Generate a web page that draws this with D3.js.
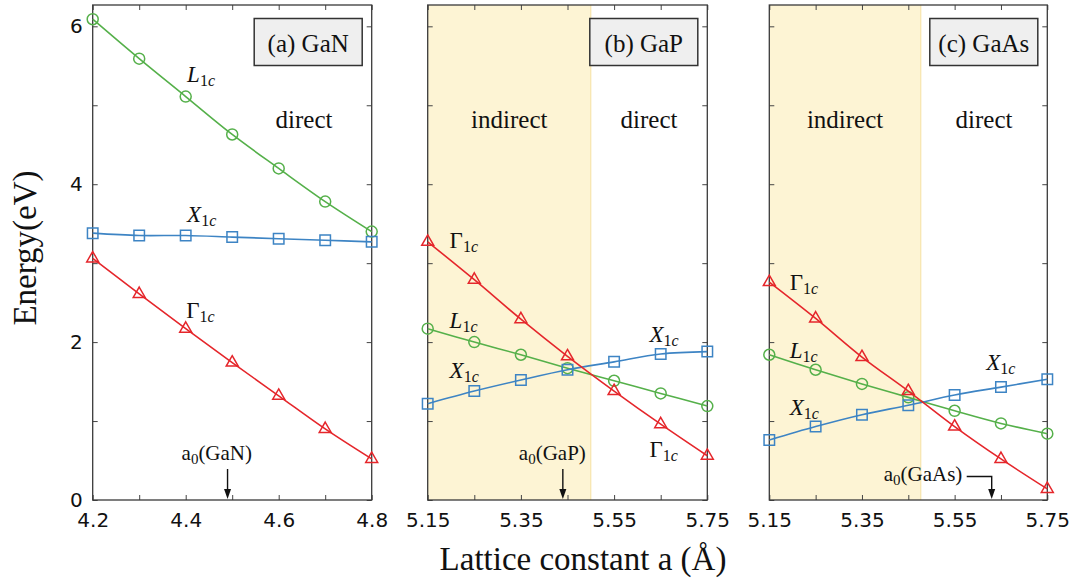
<!DOCTYPE html>
<html>
<head>
<meta charset="utf-8">
<script src="https://cdn.jsdelivr.net/npm/d3@7"></script>
<style>
  body { margin: 0; background: #fff; }
  svg { display: block; }
</style>
</head>
<body>
<svg id="chart" width="1079" height="587"></svg>
<script>
// lattice constants (Angstrom)
const latGaN = [4.2, 4.3, 4.4, 4.5, 4.6, 4.7, 4.8];
const latGaP = [5.15, 5.25, 5.35, 5.45, 5.55, 5.65, 5.75];
const latGaAs = [5.15, 5.25, 5.35, 5.45, 5.55, 5.65, 5.75];

// conduction band energies (eV)
const gamGaN = [3.06, 2.61, 2.17, 1.74, 1.32, 0.90, 0.52];
const lGaN = [6.09, 5.59, 5.11, 4.63, 4.20, 3.78, 3.40];
const xGaN = [3.38, 3.35, 3.35, 3.33, 3.31, 3.29, 3.27];

const gamGaP = [3.27, 2.79, 2.29, 1.82, 1.38, 0.96, 0.56];
const lGaP = [2.17, 2.00, 1.84, 1.67, 1.51, 1.35, 1.19];
const xGaP = [1.22, 1.38, 1.52, 1.65, 1.75, 1.85, 1.88];

const gamGaAs = [2.76, 2.30, 1.81, 1.38, 0.93, 0.52, 0.14];
const lGaAs = [1.84, 1.65, 1.47, 1.30, 1.13, 0.97, 0.84];
const xGaAs = [0.76, 0.93, 1.08, 1.20, 1.33, 1.43, 1.53];

// indirect -> direct transition, equilibrium lattice constant
const crossover = [null, 5.50, 5.477];
const a0 = [4.49, 5.44, 5.63];

const panelTitles = ["(a) GaN", "(b) GaP", "(c) GaAs"];
const materials = ["GaN", "GaP", "GaAs"];
const yTickLabels = [0, 2, 4, 6];
const xTickLabelsGaN = [4.2, 4.4, 4.6, 4.8];
const xTickLabelsGa = [5.15, 5.35, 5.55, 5.75];

const svg = d3.select("#chart");
const top_y = 5, bottom_y = 500;
const serif = "Liberation Serif, Times New Roman, serif";
const sans = "DejaVu Sans, sans-serif";

const col = { gam: "#e5262b", L: "#55b04a", X: "#3d84c4" };

const y = d3.scaleLinear().domain([0, 6.27]).range([bottom_y, top_y]);

const panels = [
  { lat: latGaN, gam: gamGaN, L: lGaN, X: xGaN, domain: [4.2, 4.8], range: [92.7, 371.7],
    ticks: xTickLabelsGaN, fmt: d3.format(".1f"), step: 0.1 },
  { lat: latGaP, gam: gamGaP, L: lGaP, X: xGaP, domain: [5.15, 5.75], range: [427.7, 707.3],
    ticks: xTickLabelsGa, fmt: d3.format(".2f"), step: 0.1 },
  { lat: latGaAs, gam: gamGaAs, L: lGaAs, X: xGaAs, domain: [5.15, 5.75], range: [769.3, 1047.3],
    ticks: xTickLabelsGa, fmt: d3.format(".2f"), step: 0.1 }
];

// series labels: [kind, x (A), y (eV)]
const labelSpots = [
  [["L", 4.403, 5.29], ["X", 4.403, 3.52], ["G", 4.401, 2.30]],
  [["G", 5.197, 3.19], ["L", 5.197, 2.18], ["X", 5.197, 1.545], ["X", 5.626, 2.0], ["G", 5.626, 0.545]],
  [["G", 5.194, 2.66], ["L", 5.194, 1.80], ["X", 5.194, 1.08], ["X", 5.618, 1.646]]
];

function addLabel(g, px, py, kind) {
  let t = g.append("text").attr("x", px).attr("y", py)
    .attr("font-family", serif).attr("font-size", 23).attr("fill", "#111");
  if (kind == "G") {
    t.append("tspan").text("Γ");
  } else {
    t.append("tspan").attr("font-style", "italic").text(kind);
  }
  t.append("tspan").attr("font-size", 16).attr("dy", 4).text("1");
  t.append("tspan").attr("font-size", 16).attr("font-style", "italic").text("c");
}

panels.forEach((p, i) => {
  let x = d3.scaleLinear().domain(p.domain).range(p.range);
  let g = svg.append("g");

  // shaded indirect region
  if (crossover[i] != null) {
    g.append("rect")
      .attr("x", x(p.domain[0])).attr("y", top_y)
      .attr("width", x(crossover[i]) - x(p.domain[0]))
      .attr("height", bottom_y - top_y)
      .attr("fill", "#fdf4d4");
    g.append("line")
      .attr("x1", x(crossover[i])).attr("x2", x(crossover[i]))
      .attr("y1", top_y).attr("y2", bottom_y)
      .attr("stroke", "#f5e2a2").attr("stroke-width", 1);
    g.append("text").attr("x", (x(p.domain[0]) + x(crossover[i])) / 2).attr("y", 128)
      .attr("text-anchor", "middle").attr("font-family", serif).attr("font-size", 25)
      .attr("fill", "#111").text("indirect");
    g.append("text").attr("x", (x(crossover[i]) + x(p.domain[1])) / 2).attr("y", 128)
      .attr("text-anchor", "middle").attr("font-family", serif).attr("font-size", 25)
      .attr("fill", "#111").text("direct");
  } else {
    g.append("text").attr("x", 304).attr("y", 128)
      .attr("text-anchor", "middle").attr("font-family", serif).attr("font-size", 25)
      .attr("fill", "#111").text("direct");
  }

  // ticks, all pointing inward
  let xt = d3.range(p.domain[0], p.domain[1] + 1e-6, p.step).map(v => Math.round(v * 100) / 100);
  let yt = d3.range(0, 7);
  let isLab = v => p.ticks.some(t => Math.abs(t - v) < 1e-6);

  let bx = g.append("g").attr("transform", `translate(0,${bottom_y})`)
    .call(d3.axisBottom(x).tickValues(xt).tickSize(-5).tickPadding(13)
      .tickFormat(d => isLab(d) ? p.fmt(d) : ""));
  let tx = g.append("g").attr("transform", `translate(0,${top_y})`)
    .call(d3.axisTop(x).tickValues(xt).tickSize(-5).tickFormat(""));
  let ly = g.append("g").attr("transform", `translate(${p.range[0]},0)`)
    .call(d3.axisLeft(y).tickValues(yt).tickSize(-5).tickPadding(10)
      .tickFormat(d => (i == 0 && yTickLabels.includes(d)) ? d : ""));
  let ry = g.append("g").attr("transform", `translate(${p.range[1]},0)`)
    .call(d3.axisRight(y).tickValues(yt).tickSize(-5).tickFormat(""));

  [bx, tx, ly, ry].forEach(a => {
    a.select(".domain").remove();
    a.selectAll("line").attr("stroke", "#444");
    a.selectAll("text").attr("font-family", sans).attr("font-size", 20).attr("fill", "#111");
  });

  // frame
  g.append("rect")
    .attr("x", p.range[0]).attr("y", top_y)
    .attr("width", p.range[1] - p.range[0]).attr("height", bottom_y - top_y)
    .attr("fill", "none").attr("stroke", "#3a3a3a").attr("stroke-width", 1.3);

  // series
  let line = d3.line().x(d => x(d[0])).y(d => y(d[1])).curve(d3.curveCatmullRom.alpha(0.5));
  let sets = [
    { vals: p.L, c: col.L, sym: "circle" },
    { vals: p.X, c: col.X, sym: "square" },
    { vals: p.gam, c: col.gam, sym: "triangle" }
  ];
  sets.forEach(s => {
    let pts = p.lat.map((v, k) => [v, s.vals[k]]);
    g.append("path").datum(pts).attr("d", line)
      .attr("fill", "none").attr("stroke", s.c).attr("stroke-width", 1.6);
    pts.forEach(d => {
      if (s.sym == "circle") {
        g.append("circle").attr("cx", x(d[0])).attr("cy", y(d[1])).attr("r", 5.5)
          .attr("fill", "none").attr("stroke", s.c).attr("stroke-width", 1.5);
      } else {
        let shape = s.sym == "square" ? d3.symbolSquare : d3.symbolTriangle;
        let size = s.sym == "square" ? 110 : 62;
        g.append("path").attr("d", d3.symbol().type(shape).size(size))
          .attr("transform", `translate(${x(d[0])},${y(d[1])})`)
          .attr("fill", "none").attr("stroke", s.c).attr("stroke-width", 1.5);
      }
    });
  });

  labelSpots[i].forEach(l => addLabel(g, x(l[1]), y(l[2]), l[0]));

  // title box
  let bw = 108, bh = 47;
  g.append("rect")
    .attr("x", p.range[1] - 9.5 - bw).attr("y", 18.5)
    .attr("width", bw).attr("height", bh)
    .attr("fill", "#efefef").attr("stroke", "#333").attr("stroke-width", 1.5);
  g.append("text")
    .attr("x", p.range[1] - 9.5 - bw / 2).attr("y", 52)
    .attr("text-anchor", "middle").attr("font-family", serif).attr("font-size", 25)
    .attr("fill", "#111").text(panelTitles[i]);

  // a0 marker
  let ax = x(a0[i]);
  let lab = g.append("text").attr("font-family", serif).attr("font-size", 21).attr("fill", "#111");
  lab.append("tspan").text("a");
  lab.append("tspan").attr("font-size", 15).attr("dy", 4).text("0");
  lab.append("tspan").attr("dy", -4).text("(" + materials[i] + ")");
  if (i < 2) {
    lab.attr("x", ax - (i == 0 ? 46 : 44)).attr("y", 460);
    g.append("line").attr("x1", ax).attr("x2", ax).attr("y1", 469).attr("y2", bottom_y - 8)
      .attr("stroke", "#111").attr("stroke-width", 1.4);
  } else {
    lab.attr("x", ax - 108).attr("y", 481);
    g.append("path")
      .attr("d", `M${ax - 25},476.5 H${ax} V${bottom_y - 8}`)
      .attr("fill", "none").attr("stroke", "#111").attr("stroke-width", 1.4);
  }
  g.append("path")
    .attr("d", `M${ax - 3.5},${bottom_y - 11} L${ax + 3.5},${bottom_y - 11} L${ax},${bottom_y - 1} Z`)
    .attr("fill", "#111");
});

// axis titles
svg.append("text")
  .attr("x", 583).attr("y", 570)
  .attr("text-anchor", "middle").attr("font-family", serif).attr("font-size", 33)
  .attr("fill", "#111").text("Lattice constant a (Å)");
svg.append("text")
  .attr("transform", "translate(36,248) rotate(-90)")
  .attr("text-anchor", "middle").attr("font-family", serif).attr("font-size", 33)
  .attr("fill", "#111").text("Energy(eV)");
</script>
</body>
</html>
